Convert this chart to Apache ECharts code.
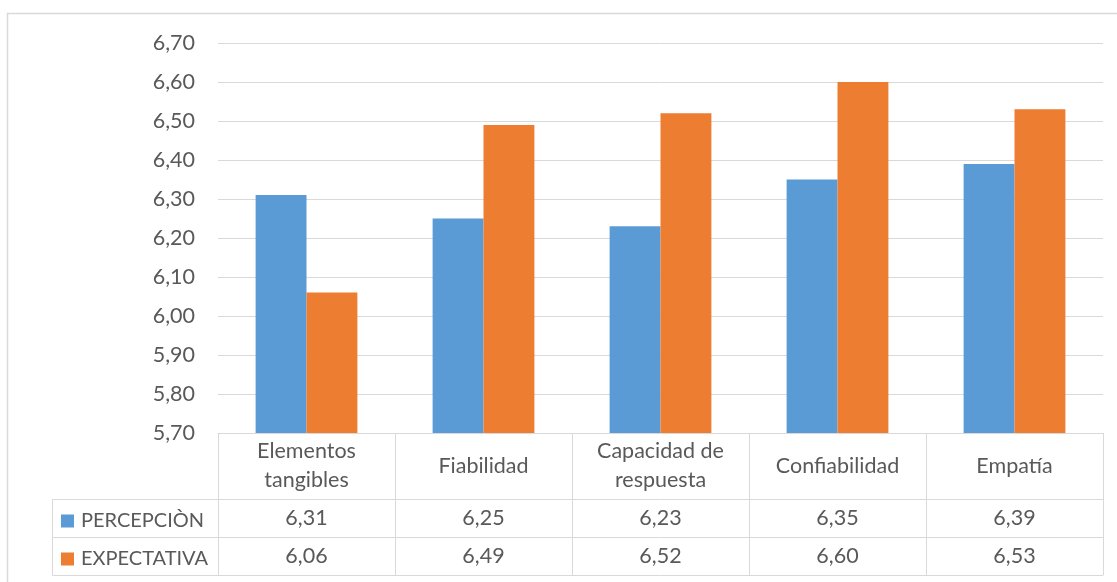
<!DOCTYPE html>
<html>
<head>
<meta charset="utf-8">
<script src="https://cdn.jsdelivr.net/npm/echarts@6/dist/echarts.min.js"></script>
<style>
  html, body { margin: 0; padding: 0; background: #ffffff; }
  #chart { width: 1117px; height: 582px; }
</style>
</head>
<body>
<div id="chart"></div>
<script>
// Dimensiones de calidad de servicio (SERVQUAL)
const categories = ['Elementos\ntangibles', 'Fiabilidad', 'Capacidad de\nrespuesta', 'Confiabilidad', 'Empatía'];
const seriesNames = ['PERCEPCIÒN', 'EXPECTATIVA'];
const percepcion = [6.31, 6.25, 6.23, 6.35, 6.39];
const expectativa = [6.06, 6.49, 6.52, 6.60, 6.53];
const yMin = 5.7, yMax = 6.7, yStep = 0.1;

const FONT = 'Lato';
const TXT = '#595959';
const LINE = '#d9d9d9';
const FS = 21.5;
const FS_LEGEND = 20;
const fmt = v => Number(v).toFixed(2).replace('.', ',');

const chart = echarts.init(document.getElementById('chart'), null, { renderer: 'canvas' });

// Grid geometry (pixels)
const gLeft = 218, gRight = 14, gTop = 43, gBottom = 149;
const plotBottom = 582 - gBottom;     // 433
const rowHeader = 66;                 // category row
const rowH = 38;                      // each data row
const tableLeft = 52;

const tableAxis = (data, offset, labelCenter, showLine) => ({
  type: 'category',
  data: data,
  position: 'bottom',
  offset: offset,
  axisLine: { show: showLine, lineStyle: { color: LINE, width: 1 } },
  axisTick: { show: false },
  axisLabel: {
    show: data.length > 0,
    interval: 0,
    margin: labelCenter,
    verticalAlign: 'middle',
    color: TXT,
    fontFamily: FONT,
    fontSize: FS
  },
  splitLine: { show: false }
});

const legendRow = (name, top) => ({
  data: [name],
  left: 61, top: top,
  itemWidth: 13, itemHeight: 13, itemGap: 0, padding: 0,
  icon: 'rect',
  textStyle: { color: TXT, fontFamily: FONT, fontSize: FS_LEGEND, padding: [0, 0, 0, 2] }
});

const option = {
  backgroundColor: '#ffffff',
  animation: false,
  textStyle: { fontFamily: FONT },
  grid: { left: gLeft, right: gRight, top: gTop, bottom: gBottom, containLabel: false },
  legend: [
    legendRow(seriesNames[0], plotBottom + rowHeader + rowH / 2 - 7),
    legendRow(seriesNames[1], plotBottom + rowHeader + rowH + rowH / 2 - 7)
  ],
  xAxis: [
    {
      type: 'category',
      data: categories,
      position: 'bottom',
      axisLine: { show: true, lineStyle: { color: LINE, width: 1 } },
      axisTick: { show: true, interval: 0, length: rowHeader + 2 * rowH, lineStyle: { color: LINE, width: 1 } },
      axisLabel: {
        interval: 0,
        margin: rowHeader / 2,
        verticalAlign: 'middle',
        lineHeight: 29,
        color: TXT,
        fontFamily: FONT,
        fontSize: FS
      },
      splitLine: { show: false }
    },
    tableAxis(percepcion.map(fmt), rowHeader, rowH / 2, true),
    tableAxis(expectativa.map(fmt), rowHeader + rowH, rowH / 2, true),
    tableAxis([], rowHeader + 2 * rowH, 0, true)
  ],
  yAxis: {
    type: 'value',
    min: yMin,
    max: yMax,
    interval: yStep,
    axisLine: { show: false },
    axisTick: { show: false },
    axisLabel: { formatter: fmt, color: TXT, fontFamily: FONT, fontSize: FS, margin: 23 },
    splitLine: { lineStyle: { color: LINE, width: 1 } }
  },
  series: [
    {
      name: seriesNames[0],
      type: 'bar',
      xAxisIndex: 0,
      data: percepcion,
      barGap: '0%',
      barCategoryGap: '42.5%',
      itemStyle: { color: '#5B9BD5' }
    },
    {
      name: seriesNames[1],
      type: 'bar',
      xAxisIndex: 0,
      data: expectativa,
      itemStyle: { color: '#ED7D31' }
    }
  ],
  graphic: [
    // chart frame
    { type: 'rect', shape: { x: 7.5, y: 13.5, width: 1120, height: 600 },
      style: { fill: 'none', stroke: LINE, lineWidth: 1.5 }, silent: true },
    // legend column of the data table
    { type: 'polyline', shape: { points: [
        [gLeft, plotBottom + rowHeader + 0.5], [tableLeft + 0.5, plotBottom + rowHeader + 0.5],
        [tableLeft + 0.5, plotBottom + rowHeader + 2 * rowH + 0.5], [gLeft, plotBottom + rowHeader + 2 * rowH + 0.5]
      ] }, style: { fill: 'none', stroke: LINE, lineWidth: 1 }, silent: true },
    { type: 'line', shape: { x1: tableLeft, y1: plotBottom + rowHeader + rowH + 0.5, x2: gLeft, y2: plotBottom + rowHeader + rowH + 0.5 },
      style: { stroke: LINE, lineWidth: 1 }, silent: true }
  ]
};

chart.setOption(option);
</script>
</body>
</html>
